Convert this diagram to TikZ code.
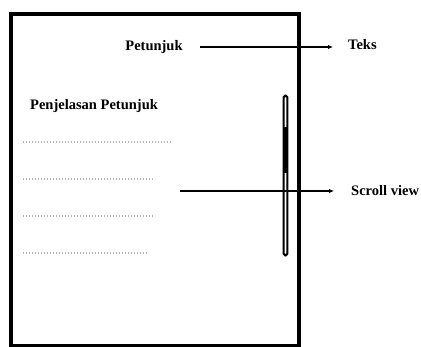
\documentclass[tikz,border=0pt]{standalone}
\usepackage{fontspec}
\setmainfont{Liberation Serif}
\usepackage{tikz}
\usetikzlibrary{positioning, arrows.meta, calc}

\begin{document}
\begin{tikzpicture}[
    x=1pt, y=-1pt,
    every node/.style={font=\fontsize{14.5}{16}\selectfont\bfseries, inner sep=1pt},
    pointer/.style={line width=1.3pt, -{Latex[length=5pt, width=4.5pt]}},
    filler/.style={gray!60, line width=1.2pt, dash pattern=on 1.4pt off 1.6pt}
]
    \useasboundingbox (0,0) rectangle (421,347);

    % Screen
    \draw[line width=3.5pt] (11,14) rectangle (299,346);
    \draw[line width=2.1pt, rounded corners=1.8pt, line join=round] (283.6,95.5) rectangle (287.4,255.5);
    \fill (282.8,127) rectangle (288.2,173);

    % Labels
    \node (petunjuk) at (154,47) {Petunjuk};
    \node[anchor=west] (teks) at (347,45) {Teks};
    \node[anchor=west] (penjelasan) at (29,106) {Penjelasan Petunjuk};
    \node[anchor=west] (scroll) at (350,191) {Scroll view};

    % Placeholder lines
    \foreach \y/\len in {142/172, 179/155, 216/155, 253/148}
        \draw[filler] (23,\y) -- (\len,\y);

    % Pointers
    \coordinate (scrollfrom) at (180,191);
    \draw[pointer, shorten <=16pt, shorten >=14pt] (petunjuk.east) -- (petunjuk.east -| teks.west);
    \draw[pointer, shorten >=16pt] (scrollfrom) -- (scrollfrom -| scroll.west);
\end{tikzpicture}
\end{document}
